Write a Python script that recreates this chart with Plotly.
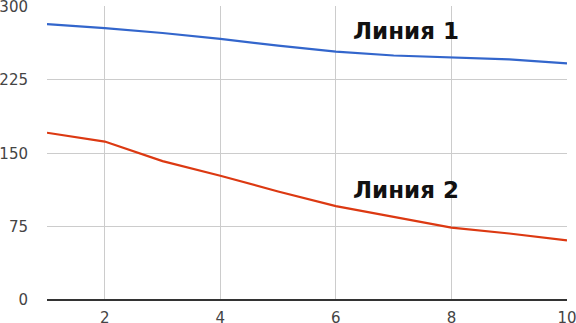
import plotly.graph_objects as go

x_vals = [1, 2, 3, 4, 5, 6, 7, 8, 9, 10]
line1 = [282, 278, 273, 267, 260, 254, 250, 248, 246, 242]
line2 = [171, 162, 142, 127, 111, 96, 85, 74, 68, 61]
x_ticks = [2, 4, 6, 8, 10]
y_ticks = [0, 75, 150, 225, 300]
label1 = "Линия 1"
label2 = "Линия 2"

fig = go.Figure()
fig.add_trace(go.Scatter(x=x_vals, y=line1, mode="lines",
                         line=dict(color="#3366CC", width=2.2), showlegend=False))
fig.add_trace(go.Scatter(x=x_vals, y=line2, mode="lines",
                         line=dict(color="#DC3912", width=2.2), showlegend=False))

fig.add_annotation(x=7.22, y=275.5, text="<b>" + label1 + "</b>", showarrow=False,
                   font=dict(family="DejaVu Sans", size=23, color="#111111"))
fig.add_annotation(x=7.21, y=112, text="<b>" + label2 + "</b>", showarrow=False,
                   font=dict(family="DejaVu Sans", size=23, color="#111111"))

fig.update_layout(
    width=576, height=323,
    margin=dict(l=47, r=9, t=6, b=23, autoexpand=False),
    paper_bgcolor="white", plot_bgcolor="white",
    font=dict(family="DejaVu Sans", size=15, color="#555555"),
)
fig.update_xaxes(range=[1, 10], tickvals=x_ticks, showgrid=True, automargin=False,
                 gridcolor="#CCCCCC", gridwidth=1, zeroline=False,
                 showline=False, ticks="", ticklabelstandoff=7,
                 ticklabeloverflow="allow",
                 tickfont=dict(size=15, color="#444444"))
fig.update_yaxes(range=[0, 300.6], tickvals=y_ticks, showgrid=True, automargin=False,
                 gridcolor="#CCCCCC", gridwidth=1, zeroline=True,
                 zerolinecolor="#333333", zerolinewidth=2,
                 showline=False, ticks="", ticklabelstandoff=18,
                 ticklabeloverflow="allow",
                 tickfont=dict(size=15, color="#444444"))

fig.write_html("out.html", config={"displayModeBar": False},
               post_script="document.body.style.margin='0px';")
